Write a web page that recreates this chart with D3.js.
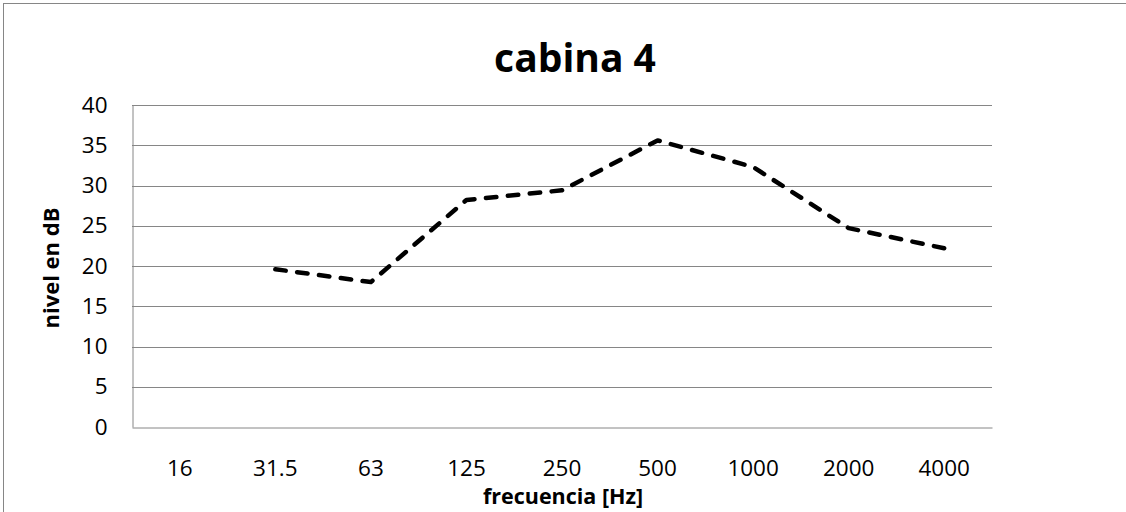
<!DOCTYPE html>
<html><head><meta charset="utf-8">
<script src="https://cdn.jsdelivr.net/npm/d3@7"></script>
<style>body{margin:0;background:#fff;}svg{display:block;font-family:"Open Sans","Liberation Sans",sans-serif;}</style>
</head><body>
<svg id="c" width="1126" height="512"></svg>
<script>
const categories = ["16","31.5","63","125","250","500","1000","2000","4000"];
const values = [null,19.6,18.0,28.2,29.4,35.6,32.3,24.7,22.2];
const yTicks = [0,5,10,15,20,25,30,35,40];
const title = "cabina 4";
const xTitle = "frecuencia [Hz]";
const yTitle = "nivel en dB";

const svg = d3.select("#c");
const m = {l:132, r:992, t:105, b:427};
svg.append("rect").attr("x",3.5).attr("y",3.5).attr("width",1130).attr("height",520)
  .attr("fill","#fff").attr("stroke","#868686").attr("stroke-width",1);

const x = d3.scaleBand().domain(categories).range([m.l,m.r]).padding(0);
const y = d3.scaleLinear().domain([0,40]).range([m.b,m.t]);

// gridlines
svg.append("g").selectAll("line").data(yTicks.filter(d=>d>0)).join("line")
  .attr("x1",m.l).attr("x2",m.r).attr("y1",d=>Math.round(y(d))+0.5).attr("y2",d=>Math.round(y(d))+0.5)
  .attr("stroke","#868686").attr("stroke-width",1);

// y axis
const ya = svg.append("g").attr("transform",`translate(${m.l+0.5},0)`)
  .call(d3.axisLeft(y).tickValues(yTicks).tickSize(0).tickPadding(25))
  .attr("font-family",null).attr("font-size",null);
ya.select(".domain").attr("stroke","#868686");
ya.selectAll("text").attr("font-size",22.5).attr("fill","#000");

// x axis
const xa = svg.append("g").attr("transform",`translate(0,${m.b+0.5})`)
  .call(d3.axisBottom(x).tickSize(0).tickPadding(33))
  .attr("font-family",null).attr("font-size",null);
xa.select(".domain").attr("stroke","#868686");
xa.selectAll("text").attr("font-size",22.5).attr("fill","#000");

// line
const line = d3.line().defined(d=>d.v!=null).x(d=>x(d.c)+x.bandwidth()/2).y(d=>y(d.v));
svg.append("path").datum(categories.map((c,i)=>({c,v:values[i]})))
  .attr("d",line).attr("fill","none").attr("stroke","#000").attr("stroke-width",4.5)
  .attr("stroke-dasharray","10.5,11.5").attr("stroke-linecap","round").attr("stroke-linejoin","round");

// titles
svg.append("text").attr("x",575).attr("y",72).attr("text-anchor","middle")
  .attr("font-size",39).attr("font-weight","bold").text(title);
svg.append("text").attr("x",563).attr("y",504).attr("text-anchor","middle")
  .attr("font-size",21.5).attr("font-weight","bold").text(xTitle);
svg.append("text").attr("transform",`translate(59,268) rotate(-90)`).attr("text-anchor","middle")
  .attr("font-size",22).attr("font-weight","bold").text(yTitle);
</script>
</body></html>
